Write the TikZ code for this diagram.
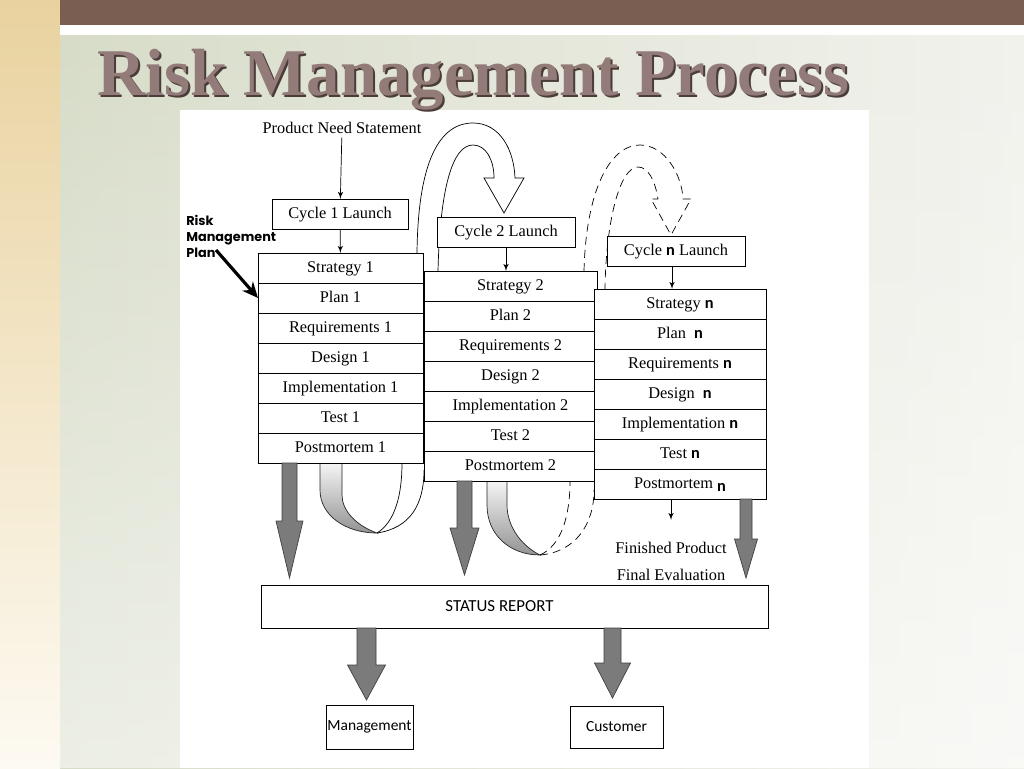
\documentclass[tikz,border=0pt]{standalone}
\usepackage{fontspec}
\setmainfont{Liberation Serif}
\setsansfont{Carlito}
\newfontfamily\gothicfont{Poppins}
\usetikzlibrary{arrows,arrows.meta,calc,positioning,fadings}
\definecolor{BarBrown}{HTML}{7A5E51}
\definecolor{StripeTan}{HTML}{E9D29F}
\definecolor{StripePale}{HTML}{FDFAF2}
\definecolor{TitleMauve}{HTML}{927B78}
\definecolor{ShadowBrown}{HTML}{4A3C39}
\definecolor{BgSage}{HTML}{D7DCC8}
\definecolor{BgPale}{HTML}{F2F2ED}
\definecolor{FatGray}{HTML}{7B7B7B}
\newcommand{\cyc}{\textsf{\bfseries n}}
\tikzset{
    block/.style = {draw, rectangle, fill=white, inner sep=0pt, outer sep=0pt,
        minimum height=0.6cm, text height=6.6pt, text depth=1.9pt, font=\fontsize{9.3}{11}\selectfont},
    report/.style = {draw, rectangle, fill=white, inner sep=0pt, outer sep=0pt,
        font=\sffamily\fontsize{8.8}{10}\selectfont},
    plain/.style = {inner sep=2pt, font=\fontsize{9.3}{11}\selectfont},
    fat/.style = {draw=black!75, fill=FatGray, line width=0.4pt},
    ribbon/.style = {draw=black!85, line width=0.4pt, top color=gray!8, bottom color=gray!85},
    loopline/.style = {draw, line width=0.4pt},
    dashline/.style = {draw, line width=0.4pt, dash pattern=on 4.5pt off 3pt}
}
% block arrow, drawn from the top middle: shaft half width, shaft length, head half width, head length
\def\fatarrow#1#2#3#4{%
    -- ++(#1,0) -- ++(0,#2) -- ++({#3-#1},0) -- ++({-#3},#4) -- ++({-#3},{-#4}) -- ++({#3-#1},0) -- ++(0,{-#2}) -- cycle
}
\begin{document}
\begin{tikzpicture}[x=0.02cm, y=-0.02cm, >=latex']
    \useasboundingbox (0,0) rectangle (1024,768);
    % slide background
    \shade[left color=BgSage, right color=BgPale] (60,35) rectangle (1024,768);
    \fill[white, fill opacity=0.55, path fading=north] (60,35) rectangle (1024,768);
    \shade[top color=StripeTan, bottom color=StripePale] (0,0) rectangle (60,768);
    \fill[BarBrown] (60,0) rectangle (1024,25);
    \fill[white] (60,26) rectangle (1024,35);
    \fill[white] (180,110) rectangle (869,768);
    % title
    \node[anchor=base west, inner sep=0pt, text=ShadowBrown, font=\bfseries\fontsize{38}{40}\selectfont] (titleshadow) at (99,97) {Risk Management Process};
    \node[anchor=base west, inner sep=0pt, text=TitleMauve, font=\bfseries\fontsize{38}{40}\selectfont] (title) at (97,95) {Risk Management Process};

    % ribbons under the columns
    \path[ribbon] (320,463) -- (320,490) .. controls (320,515) and (345,533) .. (377,533)
        .. controls (355,525) and (342,510) .. (342,495) -- (342,463) -- cycle;
    \draw[loopline] (377,533) .. controls (395,522) and (402,495) .. (402,463);
    \draw[loopline] (377,533) .. controls (410,528) and (424,505) .. (424,470);
    \path[ribbon] (487,481) -- (487,505) .. controls (487,535) and (510,555) .. (540,555)
        .. controls (520,545) and (507,525) .. (507,505) -- (507,481) -- cycle;
    \draw[dashline] (540,555) .. controls (562,545) and (570,515) .. (570,481);
    \draw[dashline] (540,555) .. controls (575,552) and (594,525) .. (594,490);

    % hollow loop arrows into the next cycle
    \draw[loopline] (417,253) .. controls (418,160) and (440,123) .. (473,123)
        .. controls (500,123) and (514,150) .. (515,178) -- (524,178) -- (504,213) -- (484,178) -- (494,178)
        .. controls (494,160) and (486,145) .. (473,145) .. controls (452,145) and (440,190) .. (438,271);
    \draw[dashline] (584,271) .. controls (586,190) and (610,145) .. (640,145)
        .. controls (665,145) and (682,175) .. (683,199) -- (691,199) -- (671,235) -- (651,199) -- (658,199)
        .. controls (655,180) and (648,167) .. (638,167) .. controls (620,167) and (606,220) .. (605,289);

    % cycle 1
    \node[plain] (need) at (342,128) {Product Need Statement};
    \node[block, minimum width=2.72cm] (c1) at (340,214) {Cycle 1 Launch};
    \node[block, minimum width=3.3cm] (a1) at (340.5,268) {Strategy 1};
    \foreach \i/\txt [evaluate=\i as \prev using int(\i-1)] in {2/Plan 1, 3/Requirements 1, 4/Design 1, 5/Implementation 1, 6/Test 1, 7/Postmortem 1}{
        \node[block, minimum width=3.3cm, below of=a\prev, node distance=0.6cm] (a\i) {\txt};
    }
    \draw[->] (need) -- (c1);
    \draw[->] (c1) -- (a1);

    % cycle 2
    \node[block, minimum width=2.76cm] (c2) at (506,232) {Cycle 2 Launch};
    \node[block, minimum width=3.46cm] (b1) at (510.5,286) {Strategy 2};
    \foreach \i/\txt [evaluate=\i as \prev using int(\i-1)] in {2/Plan 2, 3/Requirements 2, 4/Design 2, 5/Implementation 2, 6/Test 2, 7/Postmortem 2}{
        \node[block, minimum width=3.46cm, below of=b\prev, node distance=0.6cm] (b\i) {\txt};
    }
    \draw[->] (c2) -- (c2 |- b1.north);

    % cycle n
    \node[block, minimum width=2.76cm] (cn) at (676,251) {Cycle \cyc\ Launch};
    \node[block, minimum width=3.44cm] (d1) at (680,304) {Strategy \cyc};
    \foreach \i/\txt [evaluate=\i as \prev using int(\i-1)] in {2/Plan \ \cyc, 3/Requirements \cyc, 4/Design \ \cyc, 5/Implementation \cyc, 6/Test \cyc, 7/Postmortem \raisebox{-2pt}{\cyc}}{
        \node[block, minimum width=3.44cm, below of=d\prev, node distance=0.6cm] (d\i) {\txt};
    }
    \draw[->] ([xshift=-0.08cm]cn.south) -- ([xshift=-0.08cm]cn.south |- d1.north);

    % risk management plan label
    \node[anchor=north west, inner sep=0pt, align=left, font=\gothicfont\bfseries\fontsize{7.3}{9.1}\selectfont] (rmp) at (186,215) {Risk\\Management\\Plan};
    \coordinate (rmptail) at (216,250);
    \draw[line width=1.8pt, -{Stealth[length=9pt,width=8pt]}] (rmptail) -- (a2.west);

    % finished product
    \node[anchor=north, align=center, inner xsep=0pt, inner ysep=12.6pt, font=\fontsize{9.3}{15.4}\selectfont] (fin) at (671,520) {Finished Product\\Final Evaluation};
    \draw[->] (d7.south -| fin.north) -- (fin.north);

    % reports
    \node[report, minimum width=10.14cm, minimum height=0.86cm, font=\sffamily\fontsize{9.6}{11}\selectfont] (status) at (514.5,606.5) {STATUS REPORT\hspace*{0.6cm}};
    \node[report, minimum width=1.74cm, minimum height=0.88cm] (mgmt) at (369.5,727) {Management};
    \node[report, minimum width=1.86cm, minimum height=0.84cm] (cust) at (616.5,727) {Customer};

    % block arrows
    \draw[fat] (289.5,463) \fatarrow{7.5}{58}{13.5}{57};
    \draw[fat] (464.5,481) \fatarrow{7.5}{47}{14.5}{47};
    \draw[fat] (746,499) \fatarrow{6}{40}{11.5}{39};
    \draw[fat] (366.5,628) \fatarrow{9.5}{37}{19}{35};
    \draw[fat] (612.5,628) \fatarrow{8.5}{35}{18}{35};
\end{tikzpicture}
\end{document}
